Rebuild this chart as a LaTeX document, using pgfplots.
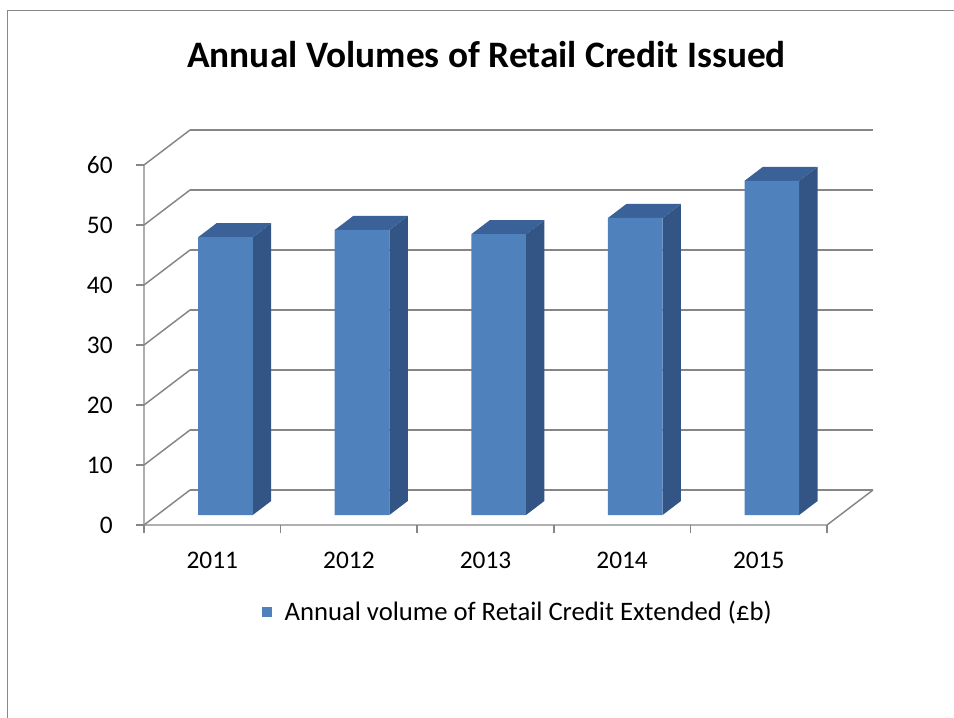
\documentclass[border=0pt]{standalone}
\usepackage{pgfplots}
\pgfplotsset{compat=1.18}
\usepackage{fontspec}
\setmainfont{Carlito}
\definecolor{frontc}{RGB}{79,129,189}
\definecolor{sidec}{RGB}{50,85,134}
\definecolor{topc}{RGB}{58,98,152}
\definecolor{gridc}{RGB}{134,134,134}
\definecolor{framec}{RGB}{136,136,136}
\begin{document}
\begin{tikzpicture}
\useasboundingbox (0,0) rectangle (715.5pt,538.5pt);
\draw[framec, line width=1.2pt] (5.6pt,0) -- (5.6pt,530.6pt) -- (715.5pt,530.6pt);
\node[anchor=base, font=\fontsize{28}{33}\selectfont\bfseries] at (364.9pt,488pt) {Annual Volumes of Retail Credit Issued};
\begin{axis}[
  at={(108pt,144.75pt)}, anchor=south west,
  x=102.45pt, y=4.5pt,
  xmin=0, xmax=5.35, ymin=0, ymax=66,
  axis x line*=bottom, axis y line*=left,
  axis line style={draw=none},
  clip=false,
  xtick={0,1,2,3,4,5},
  x tick label as interval,
  xticklabels={2011,2012,2013,2014,2015},
  ytick={0,10,20,30,40,50,60},
  tick align=outside,
  major tick length=6pt,
  tick style={gridc, line width=1.1pt},
  /pgf/number format/assume math mode=true,
  ticklabel style={font=\fontsize{19}{22}\selectfont, text=black},
  xticklabel style={yshift=-10.5pt},
  yticklabel style={xshift=-14pt},
  legend style={at={(axis cs:0.8616,-14.5)}, anchor=west, draw=none, fill=none,
    font=\fontsize{20}{24}\selectfont, inner sep=0pt},
]
% back wall gridlines
\addplot[gridc, line width=1.1pt, unbounded coords=jump, forget plot] coordinates {
 (0.3368,5.833) (5.3368,5.833) (nan,nan)
 (0.3368,15.833) (5.3368,15.833) (nan,nan)
 (0.3368,25.833) (5.3368,25.833) (nan,nan)
 (0.3368,35.833) (5.3368,35.833) (nan,nan)
 (0.3368,45.833) (5.3368,45.833) (nan,nan)
 (0.3368,55.833) (5.3368,55.833) (nan,nan)
 (0.3368,65.833) (5.3368,65.833)
};
% left wall diagonals
\addplot[gridc, line width=1.1pt, unbounded coords=jump, forget plot] coordinates {
 (0,0) (0.3368,5.833) (nan,nan)
 (0,10) (0.3368,15.833) (nan,nan)
 (0,20) (0.3368,25.833) (nan,nan)
 (0,30) (0.3368,35.833) (nan,nan)
 (0,40) (0.3368,45.833) (nan,nan)
 (0,50) (0.3368,55.833) (nan,nan)
 (0,60) (0.3368,65.833)
};
% floor edges and front vertical axis
\addplot[gridc, line width=1.1pt, forget plot] coordinates {(0,60) (0,0) (5,0) (5.3368,5.833)};
% bar side faces
\addplot[fill=sidec, draw=none, forget plot] coordinates {(0.7963,1.667) (0.9310,4.000) (0.9310,50.300) (0.7963,47.967)};
\addplot[fill=sidec, draw=none, forget plot] coordinates {(1.7963,1.667) (1.9310,4.000) (1.9310,51.500) (1.7963,49.167)};
\addplot[fill=sidec, draw=none, forget plot] coordinates {(2.7963,1.667) (2.9310,4.000) (2.9310,50.800) (2.7963,48.467)};
\addplot[fill=sidec, draw=none, forget plot] coordinates {(3.7963,1.667) (3.9310,4.000) (3.9310,53.500) (3.7963,51.167)};
\addplot[fill=sidec, draw=none, forget plot] coordinates {(4.7963,1.667) (4.9310,4.000) (4.9310,59.700) (4.7963,57.367)};
% bar top faces
\addplot[fill=topc, draw=none, forget plot] coordinates {(0.3963,47.967) (0.7963,47.967) (0.9310,50.300) (0.5310,50.300)};
\addplot[fill=topc, draw=none, forget plot] coordinates {(1.3963,49.167) (1.7963,49.167) (1.9310,51.500) (1.5310,51.500)};
\addplot[fill=topc, draw=none, forget plot] coordinates {(2.3963,48.467) (2.7963,48.467) (2.9310,50.800) (2.5310,50.800)};
\addplot[fill=topc, draw=none, forget plot] coordinates {(3.3963,51.167) (3.7963,51.167) (3.9310,53.500) (3.5310,53.500)};
\addplot[fill=topc, draw=none, forget plot] coordinates {(4.3963,57.367) (4.7963,57.367) (4.9310,59.700) (4.5310,59.700)};
% bar front faces (values)
\addplot[ybar, bar width=0.4, bar shift=0pt, fill=frontc, draw=none, yshift=7.5pt,
  legend image code/.code={\fill[frontc] (0pt,-11pt) rectangle (7.5pt,-3.5pt); \path (15pt,0pt);}]
  coordinates {(0.5963,46.3) (1.5963,47.5) (2.5963,46.8) (3.5963,49.5) (4.5963,55.7)};
\addlegendentry{Annual volume of Retail Credit Extended (£b)}
\end{axis}
\end{tikzpicture}
\end{document}
